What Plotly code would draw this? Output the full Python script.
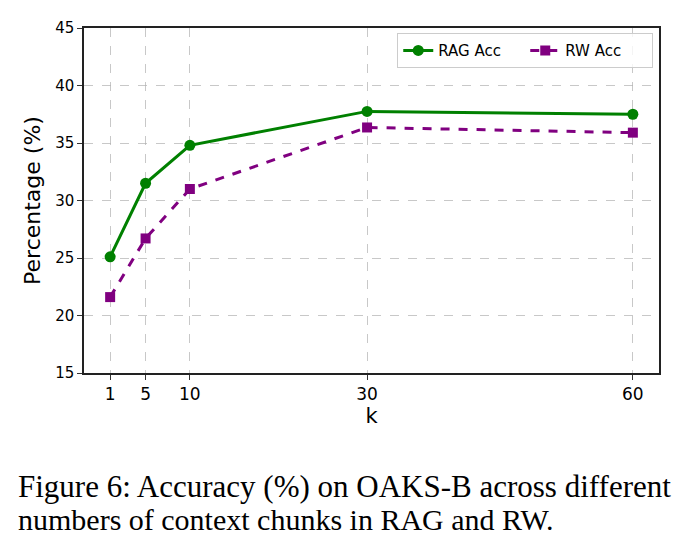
import plotly.graph_objects as go

k_values = [1, 5, 10, 30, 60]
rag_acc = [25.1, 31.5, 34.8, 37.75, 37.5]
rw_acc = [21.6, 26.7, 31.0, 36.35, 35.9]
y_ticks = [15, 20, 25, 30, 35, 40, 45]
caption_1 = "Figure 6: Accuracy (%) on OAKS-B across different"
caption_2 = "numbers of context chunks in RAG and RW."

fig = go.Figure()
fig.add_trace(go.Scatter(
    x=k_values, y=rag_acc, mode="lines+markers", name="RAG Acc",
    line=dict(color="green", width=3),
    marker=dict(symbol="circle", size=11, color="green"),
))
fig.add_trace(go.Scatter(
    x=k_values, y=rw_acc, mode="lines+markers", name="RW Acc",
    line=dict(color="purple", width=3, dash="dash"),
    marker=dict(symbol="square", size=10, color="purple"),
))

grid = dict(showgrid=True, gridcolor="rgba(176,176,176,0.7)", griddash="dash", gridwidth=1)
fig.update_xaxes(
    range=[-1.95, 62.95], tickvals=k_values, ticktext=[str(v) for v in k_values],
    ticks="outside", ticklen=5, tickwidth=1.2, tickcolor="#333",
    showline=True, linecolor="#222", linewidth=1.5, mirror=True,
    zeroline=False, tickfont=dict(family="DejaVu Sans", size=17, color="black"),
    title=dict(text="k", font=dict(family="DejaVu Sans", size=21, color="black"), standoff=3),
    **grid,
)
fig.update_yaxes(
    range=[15, 45], tickvals=y_ticks,
    ticks="outside", ticklen=5, tickwidth=1.2, tickcolor="#333",
    showline=True, linecolor="#222", linewidth=1.5, mirror=True,
    zeroline=False, tickfont=dict(family="DejaVu Sans", size=15, color="black"),
    title=dict(text="Percentage (%)", font=dict(family="DejaVu Sans", size=22, color="black"), standoff=8),
    **grid,
)

fig.add_annotation(text=caption_1, xref="paper", yref="paper", x=-0.118, y=-0.33,
                   xanchor="left", yanchor="middle", showarrow=False,
                   font=dict(family="Liberation Serif", size=31, color="black"))
fig.add_annotation(text=caption_2, xref="paper", yref="paper", x=-0.118, y=-0.425,
                   xanchor="left", yanchor="middle", showarrow=False,
                   font=dict(family="Liberation Serif", size=30, color="black"))

fig.update_layout(
    width=686, height=553,
    margin=dict(l=84, r=27, t=28, b=180),
    plot_bgcolor="white", paper_bgcolor="white",
    showlegend=True,
    legend=dict(orientation="h", x=0.99, y=0.985, xanchor="right", yanchor="top",
                bgcolor="rgba(255,255,255,0.8)", bordercolor="#cccccc", borderwidth=1,
                font=dict(family="DejaVu Sans", size=15, color="black"),
                itemwidth=30, entrywidth=82),
)

fig.write_html("out.html")
